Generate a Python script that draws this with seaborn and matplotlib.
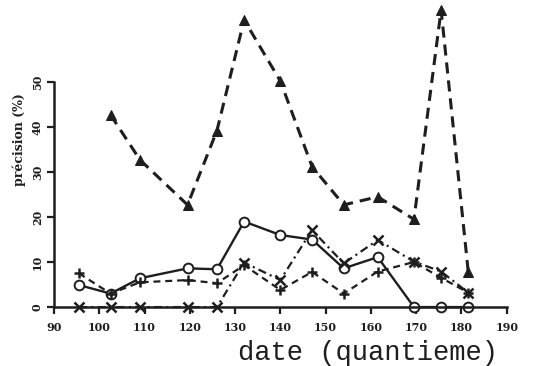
import matplotlib
matplotlib.use("Agg")
import matplotlib.pyplot as plt
import matplotlib.transforms as mtransforms
import seaborn as sns
import pandas as pd

# sampling dates (day of year)
dates = [95.5, 102.5, 109, 119.5, 126, 132, 140, 147, 154, 161.5, 169.5, 175.5, 181.5]

# precision (%) per series
prec_triangle = [42.7, 32.7, 22.7, 39.2, 63.8, 50.2, 31.2, 22.7, 24.5, 19.5, 66.0, 7.8]
prec_circle = [4.9, 3.0, 6.4, 8.6, 8.4, 19.0, 16.0, 15.0, 8.6, 11.1, 0.0, 0.0, 0.0]
prec_cross = [0.0, 0.0, 0.0, 0.0, 0.0, 9.9, 6.0, 17.1, 9.7, 14.9, 10.1, 7.9, 3.2]
prec_plus = [7.5, 3.0, 5.5, 6.0, 5.3, 9.3, 3.8, 7.8, 3.0, 7.9, 10.0, 6.5, 3.2]

x_ticks = [90, 100, 110, 120, 130, 140, 150, 160, 170, 180, 190]
y_ticks = [0, 10, 20, 30, 40, 50]

sns.set_style("ticks")
plt.rcParams["lines.scale_dashes"] = False
plt.rcParams["font.family"] = ["DejaVu Sans"]

ink = "#1e1e1e"

fig = plt.figure(figsize=(5.34, 3.66), dpi=100)
ax = fig.add_axes([0.101, 0.161, 0.848, 0.615])

df_tri = pd.DataFrame({"date": dates[1:], "precision": prec_triangle})
df_circ = pd.DataFrame({"date": dates, "precision": prec_circle})
df_cross = pd.DataFrame({"date": dates, "precision": prec_cross})
df_plus = pd.DataFrame({"date": dates, "precision": prec_plus})

sns.lineplot(data=df_tri, x="date", y="precision", ax=ax, color=ink,
             linewidth=2.2, marker="^", markersize=7, markeredgecolor=ink,
             markerfacecolor=ink, sort=False, clip_on=False)
ax.lines[-1].set_dashes((8, 5))

sns.lineplot(data=df_circ, x="date", y="precision", ax=ax, color=ink,
             linewidth=1.7, marker="o", markersize=7, markerfacecolor="white",
             markeredgecolor=ink, markeredgewidth=1.4, sort=False, clip_on=False)

sns.lineplot(data=df_cross, x="date", y="precision", ax=ax, color=ink,
             linewidth=1.6, marker="x", markersize=7, markeredgecolor=ink,
             markeredgewidth=1.8, sort=False, clip_on=False)
ax.lines[-1].set_dashes((6, 3, 1.5, 3))

sns.lineplot(data=df_plus, x="date", y="precision", ax=ax, color=ink,
             linewidth=1.6, marker="+", markersize=7, markeredgecolor=ink,
             markeredgewidth=1.8, sort=False, clip_on=False)
ax.lines[-1].set_dashes((5, 3.5))

ax.set_xlim(90, 190)
ax.set_ylim(0, 50)
ax.set_xticks(x_ticks)
ax.set_yticks(y_ticks)
ax.set_xticklabels([str(t) for t in x_ticks], fontsize=8, fontweight="bold",
                   family="DejaVu Serif", color=ink)
ax.set_yticklabels([str(t) for t in y_ticks], fontsize=8, fontweight="bold",
                   family="DejaVu Serif", rotation=90, va="center", color=ink)

# shift the date labels a little to the right of their ticks
shift = mtransforms.ScaledTranslation(6 / 72, 0, fig.dpi_scale_trans)
for lbl in ax.get_xticklabels():
    lbl.set_transform(lbl.get_transform() + shift)

ax.tick_params(axis="x", direction="out", length=5, width=1.6, color=ink, pad=6)
ax.tick_params(axis="y", direction="out", length=5, width=1.6, color=ink, pad=3)
for side in ("top", "right"):
    ax.spines[side].set_visible(False)
for side in ("left", "bottom"):
    ax.spines[side].set_linewidth(1.8)
    ax.spines[side].set_color(ink)

ax.set_xlabel("date (quantieme)", family="Liberation Mono", fontsize=19.5,
              color=ink)
ax.xaxis.set_label_coords(0.693, -0.145)
ax.set_ylabel("précision (%)", family="DejaVu Serif", fontsize=9,
              fontweight="bold", color=ink)
ax.yaxis.set_label_coords(-0.062, 0.745)

fig.savefig("out.png", dpi=100)
